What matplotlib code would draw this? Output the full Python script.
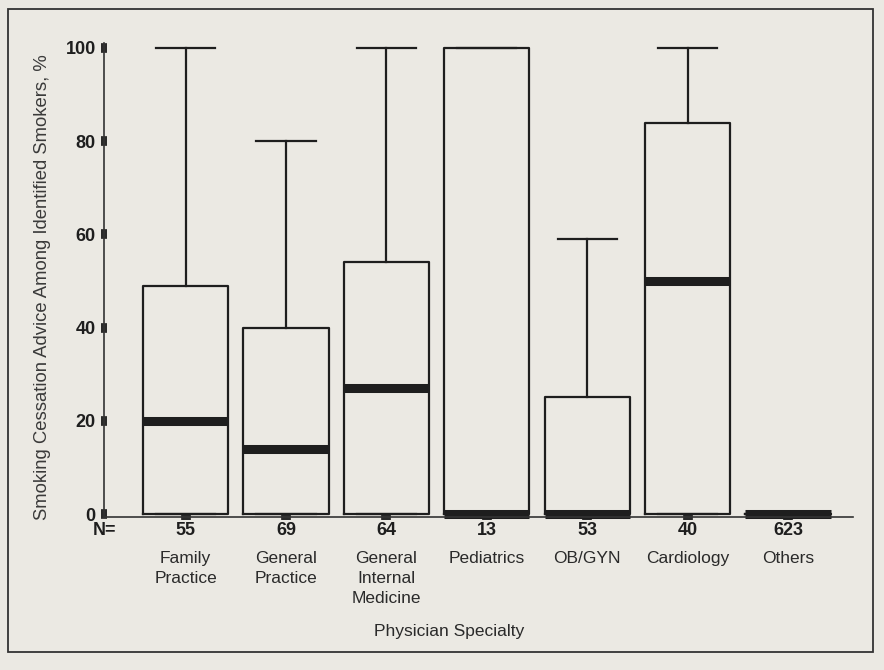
import matplotlib.pyplot as plt
from matplotlib.patches import Rectangle

# box stats (percent)
specialties = ["Family\nPractice", "General\nPractice", "General\nInternal\nMedicine",
               "Pediatrics", "OB/GYN", "Cardiology", "Others"]
n_counts = [55, 69, 64, 13, 53, 40, 623]
q1 = [0, 0, 0, 0, 0, 0, 0]
medians = [20, 14, 27, 0, 0, 50, 0]
q3 = [49, 40, 54, 100, 25, 84, 0]
whisk_lo = [0, 0, 0, 0, 0, 0, 0]
whisk_hi = [100, 80, 100, 100, 59, 100, 0]
yticks = [0, 20, 40, 60, 80, 100]

plt.rcParams["font.family"] = ["Liberation Sans", "DejaVu Sans"]
page = "#ebe9e3"
ink = "#1e1e1e"

fig = plt.figure(figsize=(8.84, 6.70), dpi=100, facecolor=page)
ax = fig.add_axes([104 / 884, (670 - 516.8) / 670, (853 - 104) / 884, (516.8 - 43.3) / 670])
ax.set_facecolor(page)

stats = [dict(q1=a, med=m, q3=b, whislo=lo, whishi=hi, fliers=[])
         for a, m, b, lo, hi in zip(q1, medians, q3, whisk_lo, whisk_hi)]
pos = list(range(len(stats)))
ax.bxp(stats, positions=pos, widths=0.85, showfliers=False,
       boxprops=dict(color=ink, lw=1.6),
       whiskerprops=dict(color=ink, lw=1.6),
       capprops=dict(color=ink, lw=1.6),
       medianprops=dict(color=ink, lw=6.5, solid_capstyle="butt", clip_on=False),
       capwidths=0.59)

ax.set_xlim(-0.812, 6.647)
ax.set_ylim(-0.6, 101)
ax.spines[["top", "right"]].set_visible(False)
for s in ("left", "bottom"):
    ax.spines[s].set_color("#333333")
    ax.spines[s].set_linewidth(1.2)

ax.set_yticks(yticks)
ax.set_yticklabels([str(v) for v in yticks], fontsize=13, fontweight="bold", color=ink)
ax.tick_params(axis="y", direction="inout", length=4, width=7, color="#2a2a2a", pad=4)
ax.set_xticks(pos)
ax.set_xticklabels([])
ax.tick_params(axis="x", direction="inout", length=4, width=7, color="#2a2a2a")

xt = ax.get_xaxis_transform()
ax.text(-0.812, -0.028, "N=", transform=xt, ha="center", va="center",
        fontsize=13, fontweight="bold", color=ink, clip_on=False)
for i, (n, lab) in enumerate(zip(n_counts, specialties)):
    ax.text(i, -0.028, str(n), transform=xt, ha="center", va="center",
            fontsize=13, fontweight="bold", color=ink, clip_on=False)
    ax.text(i, -0.0722, lab, transform=xt, ha="center", va="top",
            fontsize=12.5, linespacing=1.4, color="#2a2a2a", clip_on=False)
ax.text(2.62, -0.243, "Physician Specialty", transform=xt, ha="center", va="center",
        fontsize=12.5, color="#2a2a2a", clip_on=False)

fig.text(43 / 884, 1 - 287 / 670, "Smoking Cessation Advice Among Identified Smokers, %",
         rotation=90, ha="center", va="center", fontsize=13.3, color="#3a3a3a")

fig.patches.append(Rectangle((8 / 884, 18 / 670), 865 / 884, 643 / 670,
                             transform=fig.transFigure, fill=False, lw=1.3, ec="#333333"))

fig.savefig("out.png", dpi=100, facecolor=page)
